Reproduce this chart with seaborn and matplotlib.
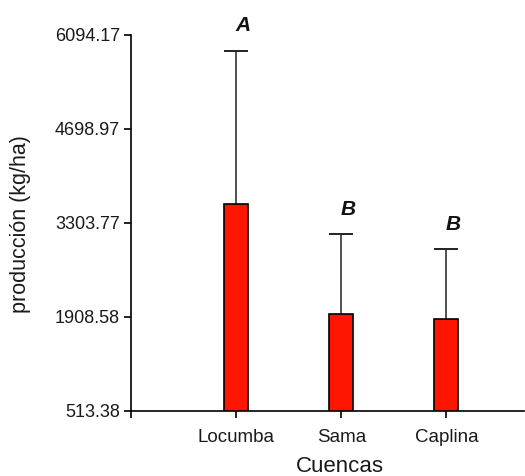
import numpy as np
import pandas as pd
import matplotlib
matplotlib.use("Agg")
import matplotlib.pyplot as plt
import seaborn as sns

# values
cuencas = ["Locumba", "Sama", "Caplina"]
produccion = [3584, 1960, 1875]
desviacion = [2277, 1178, 1045]
letras = ["A", "B", "B"]
yticks = [513.38, 1908.58, 3303.77, 4698.97, 6094.17]

df = pd.DataFrame({"cuenca": cuencas, "produccion": produccion})

sns.set_style("ticks")
plt.rcParams["font.family"] = ["Liberation Sans", "DejaVu Sans"]

fig = plt.figure(figsize=(5.25, 4.76), dpi=100)
ax = fig.add_axes([0.2495, 0.1366, 0.749, 0.790])

bw = 0.23
sns.barplot(data=df, x="cuenca", y="produccion", color="#ff1500",
            saturation=1, width=bw, edgecolor="black", linewidth=1.2,
            errorbar=None, ax=ax, zorder=2)

# upper error bars only (line + cap)
x = np.arange(len(cuencas))
tops = np.array(produccion) + np.array(desviacion)
ax.vlines(x, produccion, tops, color="#222222", lw=1.1, zorder=1)
ax.hlines(tops, x - bw / 2, x + bw / 2, color="#222222", lw=1.4, zorder=1)

for xi, top, t in zip(x, tops, letras):
    ax.annotate(t, (xi, top), xytext=(5, 11), textcoords="offset points",
                ha="center", va="bottom", fontsize=15, fontweight="bold",
                fontstyle="italic", color="#111111", annotation_clip=False)

ax.set_xlim(-1.0, 2.74)
ax.set_ylim(yticks[0], yticks[-1])
ax.set_yticks(yticks)
ax.set_yticklabels([f"{v:.2f}" for v in yticks])
ax.set_xticks([-1.0], minor=True)
sns.despine(ax=ax)
for sp in ["left", "bottom"]:
    ax.spines[sp].set_linewidth(1.2)
    ax.spines[sp].set_color("black")
ax.tick_params(axis="both", which="both", length=5, width=1.2, color="black",
               labelsize=13, labelcolor="#1a1a1a")
ax.tick_params(axis="y", pad=3)
ax.tick_params(axis="x", pad=8, labelsize=13.5)

ax.set_xlabel("Cuencas", fontsize=16, color="#1a1a1a")
ax.set_ylabel("producción (kg/ha)", fontsize=15.5, color="#1a1a1a")
ax.xaxis.set_label_coords(0.532, -0.148)
ax.xaxis.label.set_verticalalignment("center")
ax.yaxis.set_label_coords(-0.282, 0.496)
ax.yaxis.label.set_verticalalignment("center")

fig.savefig("out.png", dpi=100)
